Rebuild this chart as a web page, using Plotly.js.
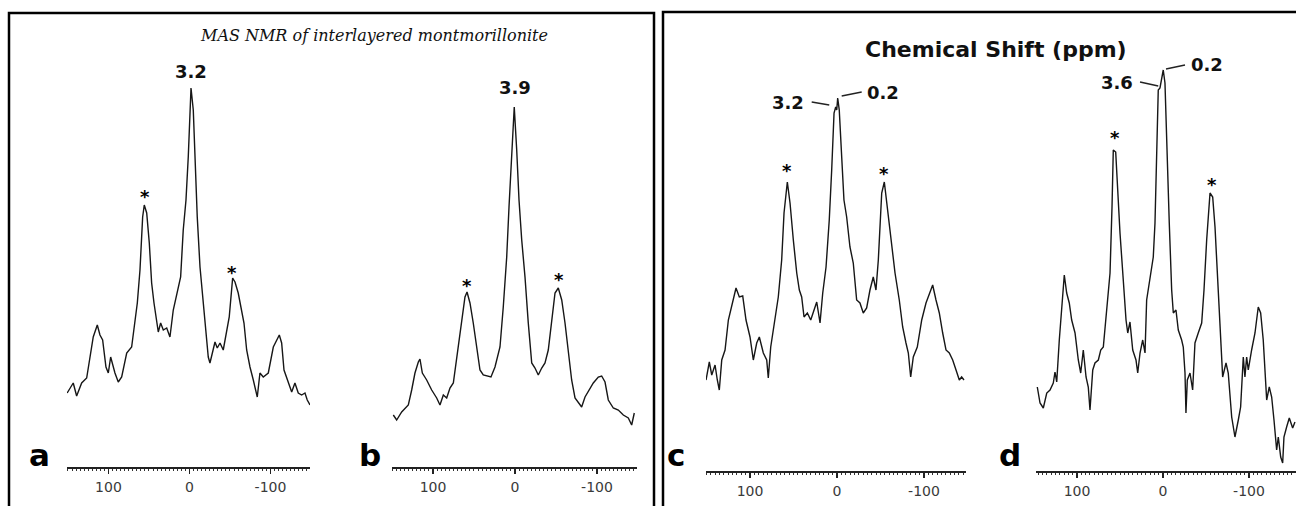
<!DOCTYPE html>
<html>
<head>
<meta charset="utf-8">
<script src="https://cdn.plot.ly/plotly-3.0.1.min.js"></script>
<style>html,body{margin:0;padding:0;background:#fff}#chart{width:1296px;height:506px}</style>
</head>
<body>
<div id="chart"></div>
<script>
// ---- data: chemical shift (ppm) and intensity (arbitrary units) ----
const ppmA = [151, 143.5, 139.3, 133.1, 126.9, 123.7, 118.8, 113.8, 110.5, 107.2, 103.1, 100.2, 97.3, 92, 87.9, 83.7, 77.5, 71.4, 68.5, 64.4, 61.1, 57.8, 55.8, 52.8, 49.6, 46.7, 43.8, 40.5, 38.5, 35.6, 32.3, 28.1, 24.1, 20, 15.1, 10.9, 7.7, 4.3, 1.5, -0.6, -1.9, -4.7, -6.8, -9.6, -13, -17, -20.4, -23.2, -25.3, -28.6, -31.5, -34.3, -37.7, -41.7, -45.9, -49.1, -53.3, -56.2, -60.2, -64.4, -67.3, -70.6, -74.7, -78.8, -83.7, -87, -91.1, -97.3, -103.5, -110.9, -113.8, -116.7, -122, -126.2, -130.2, -134.3, -138.5, -142.6, -145.4, -148.8];
const intA = [74, 84, 71, 84, 89, 104, 130, 142, 132, 127, 100, 94, 110, 94, 85, 90, 114, 120, 137, 164, 197, 250, 262, 254, 224, 184, 164, 147, 135, 144, 137, 139, 130, 157, 174, 190, 237, 267, 310, 357, 379, 357, 310, 250, 200, 164, 130, 110, 104, 117, 125, 119, 124, 117, 137, 150, 189, 185, 174, 157, 144, 117, 100, 87, 70, 94, 90, 94, 120, 132, 124, 97, 84, 75, 84, 74, 72, 74, 67, 62];

const ppmB = [148.4, 144.3, 138.2, 134.1, 130.1, 126, 122, 117.9, 115.9, 113, 107.7, 101.6, 95.5, 91.5, 87.4, 83.3, 79.3, 75.2, 71.1, 67.1, 64.3, 61, 58.5, 54.9, 50.9, 46.7, 42.7, 38.7, 32.6, 29.3, 24.4, 18.3, 14.3, 10.1, 7.3, 4, 0.9, -2.1, -4.9, -8.2, -12.2, -16.2, -20.4, -24.4, -28.4, -32.6, -36.6, -40.6, -44.8, -48.8, -52.8, -57, -61, -65, -69.1, -73.2, -77.2, -81.3, -85.4, -90.2, -95.5, -101.6, -105.7, -109.8, -113.8, -119.9, -126, -132.1, -138.2, -142.3, -145.5];
const intB = [52, 47, 55, 59, 62, 77, 94, 105, 108, 94, 87, 77, 69, 62, 72, 69, 79, 84, 110, 130, 150, 170, 175, 164, 144, 117, 97, 92, 91, 90, 100, 120, 160, 210, 260, 317, 360, 317, 267, 227, 190, 144, 104, 99, 92, 99, 104, 117, 144, 174, 179, 167, 144, 114, 87, 69, 64, 60, 70, 77, 84, 90, 91, 85, 67, 59, 57, 52, 49, 42, 54];

const ppmC = [150.6, 146.8, 144, 140.2, 137.6, 135.3, 132.5, 128.7, 124.9, 121, 116.1, 112.3, 108.4, 104.6, 100, 96.2, 92.3, 89.3, 84.7, 80.8, 79, 76.2, 72.4, 67.5, 63.6, 60.9, 57.1, 54, 50.2, 46.3, 43.3, 40.6, 37.9, 34.1, 30.2, 27.2, 23.3, 19.5, 16.4, 12.6, 8.9, 6.1, 3.4, 1.5, 0.3, -0.8, -2.6, -5.4, -8, -11.1, -14.9, -18.7, -20.7, -22.6, -26.4, -30.2, -34.1, -37.9, -41.7, -44.8, -47.5, -51.4, -54.4, -57.8, -61.7, -66.7, -71.6, -75.5, -79.3, -82, -84.7, -87.7, -92.3, -97.4, -102.3, -106.9, -110, -113.8, -117.6, -121.5, -125.3, -129.1, -133, -137.6, -140.6, -143.3, -146];
const intC = [91, 109, 96, 106, 91, 81, 111, 121, 151, 164, 183, 174, 175, 151, 134, 111, 128, 134, 118, 111, 93, 124, 144, 174, 211, 258, 289, 268, 231, 198, 181, 174, 154, 158, 151, 158, 169, 148, 178, 204, 251, 301, 358, 364, 361, 373, 361, 314, 271, 254, 224, 208, 184, 171, 168, 158, 163, 181, 194, 181, 211, 278, 289, 264, 234, 198, 171, 144, 128, 118, 94, 114, 124, 151, 168, 179, 186, 171, 158, 138, 121, 118, 111, 99, 91, 94, 91];

const ppmD = [146.2, 143, 139.2, 135.2, 131.4, 127.6, 125.6, 123.6, 120.6, 117.8, 114.8, 112, 109, 106.2, 102.3, 98.5, 95.7, 92.7, 89.5, 86.9, 84.9, 81.7, 79.1, 75.2, 72.4, 69.4, 65.5, 61.6, 59.3, 57.8, 55, 53.1, 50, 46.2, 43, 41, 38.4, 35.2, 31.4, 29.4, 26.7, 23.6, 20.9, 19, 15.1, 11.3, 9.3, 7.3, 5.5, 3.5, 1.5, -0.3, -2.3, -4.3, -7.3, -10.1, -12, -15.1, -17.8, -21.7, -23.6, -25.6, -26.7, -28.3, -31.4, -34.5, -37.2, -41, -45, -47.7, -50.8, -54.7, -57.8, -60.5, -64.3, -67.1, -69.4, -73.3, -75.9, -79.9, -83.7, -87.6, -90.3, -93.4, -95.3, -97.3, -99.2, -103.1, -107, -110.8, -113.6, -116.6, -120.6, -123.6, -126.4, -129.1, -132.2, -134.1, -136.9, -139.2, -140.7, -143.8, -146.9, -150.8, -153.5];
const intD = [84, 68, 63, 78, 81, 88, 99, 89, 131, 164, 196, 178, 168, 151, 138, 111, 98, 121, 94, 84, 61, 101, 108, 111, 121, 124, 158, 198, 264, 321, 319, 284, 238, 191, 151, 138, 149, 121, 111, 98, 118, 131, 118, 171, 191, 214, 248, 314, 381, 383, 394, 401, 388, 321, 248, 181, 158, 161, 141, 131, 124, 98, 58, 91, 98, 81, 128, 138, 148, 181, 231, 278, 274, 244, 181, 131, 94, 108, 98, 54, 34, 51, 64, 114, 94, 114, 101, 121, 138, 164, 158, 131, 71, 84, 74, 51, 21, 34, 14, 8, 34, 44, 53, 43, 49];

// tick labels
const tickVals = [100, 0, -100];
const tickText = ['100', '0', '-100'];

// panel letters and peak labels
const panelLetters = ['a', 'b', 'c', 'd'];
const starPpm = [[55, -52.8], [58.9, -53.7], [57.8, -54.4], [55.5, -56.6]];
const starInt = [[270, 195], [182, 188], [301, 298], [334, 287]];
const mainLabelA = {text: '3.2', ppm: -1.9, int: 395};
const mainLabelB = {text: '3.9', ppm: 0, int: 379};
const labelsC = [{text: '3.2', ppm: 56, int: 368}, {text: '0.2', ppm: -53.2, int: 378}];
const labelsD = [{text: '3.6', ppm: 53.8, int: 388}, {text: '0.2', ppm: -50.8, int: 406}];
const leadersC = [[29.1, 369, 8.9, 366], [-5.4, 375, -28.4, 379]];
const leadersD = [[26.7, 389, 5.5, 385], [-3.5, 402, -25.6, 406]];

// ---- layout geometry (pixels) ----
const W = 1296, H = 506;
const fx = p => p / W;
const fy = p => 1 - p / H;

const geo = [
  {x0: 67, x1: 310, axisY: 467, top: 13, range: [151.2, -148.8], yr: 454},
  {x0: 392, x1: 637, axisY: 467, top: 13, range: [150, -148.8], yr: 454},
  {x0: 706, x1: 966, axisY: 471, top: 12, range: [150.6, -148.3], yr: 459},
  {x0: 1036, x1: 1296, axisY: 471, top: 12, range: [147.7, -154.7], yr: 459}
];

const xs = [ppmA, ppmB, ppmC, ppmD];
const ys = [intA, intB, intC, intD];

const traces = xs.map((x, i) => ({
  type: 'scatter', mode: 'lines', x: x, y: ys[i],
  xaxis: i === 0 ? 'x' : 'x' + (i + 1),
  yaxis: i === 0 ? 'y' : 'y' + (i + 1),
  line: {color: '#161616', width: 1.4},
  hoverinfo: 'skip', showlegend: false
}));

const layout = {
  width: W, height: H,
  margin: {l: 0, r: 0, t: 0, b: 0, pad: 0},
  paper_bgcolor: '#ffffff', plot_bgcolor: 'rgba(0,0,0,0)',
  showlegend: false,
  annotations: [], shapes: []
};

geo.forEach((g, i) => {
  const n = i === 0 ? '' : String(i + 1);
  layout['xaxis' + n] = {
    domain: [fx(g.x0), fx(g.x1)], range: g.range, anchor: 'y' + n,
    showline: true, linecolor: '#222', linewidth: 1.5,
    tickmode: 'array', tickvals: tickVals, ticktext: tickText,
    ticks: 'outside', ticklen: 5, tickwidth: 1.2, tickcolor: '#222',
    ticklabelstandoff: 2,
    minor: {tickmode: 'linear', tick0: 0, dtick: 5, ticks: 'outside', ticklen: 2.5, tickwidth: 1, tickcolor: '#333', showgrid: false},
    showgrid: false, zeroline: false, fixedrange: true,
    tickfont: {family: 'DejaVu Sans', size: 14, color: '#3a3a3a'}
  };
  layout['yaxis' + n] = {
    domain: [1 - g.axisY / H, 1 - g.top / H], range: [0, g.yr], anchor: 'x' + n,
    showline: false, showgrid: false, zeroline: false, showticklabels: false, ticks: '', fixedrange: true
  };
  // asterisks
  starPpm[i].forEach((p, k) => {
    layout.annotations.push({
      xref: 'x' + n, yref: 'y' + n, x: p, y: starInt[i][k], text: '<b>*</b>', showarrow: false,
      xanchor: 'center', yanchor: 'middle',
      font: {family: 'DejaVu Sans', size: 18, color: '#000'}
    });
  });
});

// panel letters
const letterX = [39, 370, 676, 1010];
panelLetters.forEach((t, i) => {
  layout.annotations.push({
    xref: 'paper', yref: 'paper', x: fx(letterX[i]), y: fy(455), text: '<b>' + t + '</b>',
    showarrow: false, xanchor: 'center', yanchor: 'middle',
    font: {family: 'DejaVu Sans', size: 31, color: '#000'}
  });
});

// peak labels
const boldLab = (ax, L) => ({
  xref: 'x' + ax, yref: 'y' + ax, x: L.ppm, y: L.int, text: '<b>' + L.text + '</b>', showarrow: false,
  xanchor: 'center', yanchor: 'middle', font: {family: 'DejaVu Sans', size: 18, color: '#111'}
});
layout.annotations.push(boldLab('', mainLabelA));
layout.annotations.push(boldLab('2', mainLabelB));
labelsC.forEach(L => layout.annotations.push(boldLab('3', L)));
labelsD.forEach(L => layout.annotations.push(boldLab('4', L)));

leadersC.forEach(s => layout.shapes.push({type: 'line', xref: 'x3', yref: 'y3', x0: s[0], y0: s[1], x1: s[2], y1: s[3], line: {color: '#222', width: 1.3}}));
leadersD.forEach(s => layout.shapes.push({type: 'line', xref: 'x4', yref: 'y4', x0: s[0], y0: s[1], x1: s[2], y1: s[3], line: {color: '#222', width: 1.3}}));

// titles
layout.annotations.push({
  xref: 'paper', yref: 'paper', x: fx(374), y: fy(35), text: '<i>MAS NMR of interlayered montmorillonite</i>',
  showarrow: false, xanchor: 'center', yanchor: 'middle',
  font: {family: 'DejaVu Serif', size: 16, color: '#111'}
});
layout.annotations.push({
  xref: 'paper', yref: 'paper', x: fx(996), y: fy(49), text: '<b>Chemical Shift (ppm)</b>',
  showarrow: false, xanchor: 'center', yanchor: 'middle',
  font: {family: 'DejaVu Sans', size: 22, color: '#111'}
});

// frames around the two figure halves
const frame = {color: '#000', width: 2.5};
layout.shapes.push({type: 'path', xref: 'paper', yref: 'paper',
  path: `M ${fx(9)} ${fy(510)} L ${fx(9)} ${fy(13)} L ${fx(654)} ${fy(13)} L ${fx(654)} ${fy(510)}`, line: frame});
layout.shapes.push({type: 'path', xref: 'paper', yref: 'paper',
  path: `M ${fx(663)} ${fy(510)} L ${fx(663)} ${fy(12)} L ${fx(1300)} ${fy(12)}`, line: frame});

Plotly.newPlot('chart', traces, layout, {staticPlot: true, displayModeBar: false});
</script>
</body>
</html>
